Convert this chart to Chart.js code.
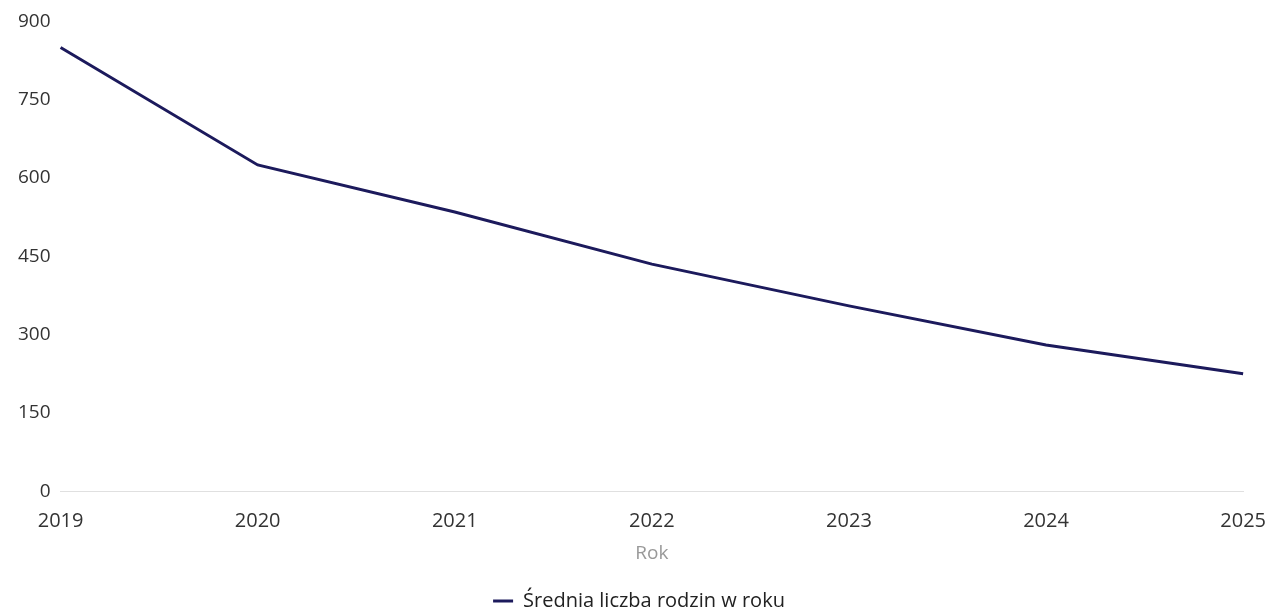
<!DOCTYPE html>
<html>
<head>
<meta charset="utf-8">
<script src="https://cdn.jsdelivr.net/npm/chart.js@4/dist/chart.umd.min.js"></script>
<style>
  html, body { margin: 0; padding: 0; background: #fff; }
  #wrap { width: 1270px; height: 613px; }
</style>
</head>
<body>
<div id="wrap"><canvas id="chart"></canvas></div>
<script>
const years = ['2019', '2020', '2021', '2022', '2023', '2024', '2025'];
const avgFamilies = [850, 625, 535, 435, 355, 280, 225];
const yTicks = [0, 150, 300, 450, 600, 750, 900];

const ctx = document.getElementById('chart').getContext('2d');
new Chart(ctx, {
    type: 'line',
    data: {
        labels: years,
        datasets: [{
            label: 'Średnia liczba rodzin w roku',
            data: avgFamilies,
            borderColor: '#1c1a5c',
            backgroundColor: '#1c1a5c',
            borderWidth: 3,
            pointRadius: 0,
            tension: 0
        }]
    },
    options: {
        responsive: true,
        maintainAspectRatio: false,
        animation: false,
        layout: { padding: { top: 14, right: 0, left: 8, bottom: -8 } },
        scales: {
            x: {
                // invisible tick marks just to push the labels down
                grid: { display: true, drawOnChartArea: false, drawTicks: true, tickLength: 14, color: 'rgba(0,0,0,0)' },
                border: { display: true, color: '#e0e0e0', width: 1, dash: [30, 12] },
                ticks: { color: '#333', font: { family: 'Open Sans', size: 20 }, padding: 4, maxRotation: 0 },
                title: { display: true, text: 'Rok', color: '#999', font: { family: 'Open Sans', size: 19 }, padding: { top: 5, bottom: 18 } }
            },
            y: {
                min: 0,
                max: 900,
                afterBuildTicks: (axis) => { axis.ticks = yTicks.map(v => ({ value: v })); },
                grid: { display: false, drawTicks: false },
                border: { display: false },
                ticks: { color: '#333', font: { family: 'Open Sans', size: 19 }, padding: 10 }
            }
        },
        plugins: {
            legend: {
                position: 'bottom',
                labels: {
                    usePointStyle: true,
                    pointStyle: 'line',
                    pointStyleWidth: 20,
                    color: '#222',
                    font: { family: 'Open Sans', size: 20 },
                    padding: 8
                }
            },
            tooltip: { enabled: false }
        }
    }
});
</script>
</body>
</html>
